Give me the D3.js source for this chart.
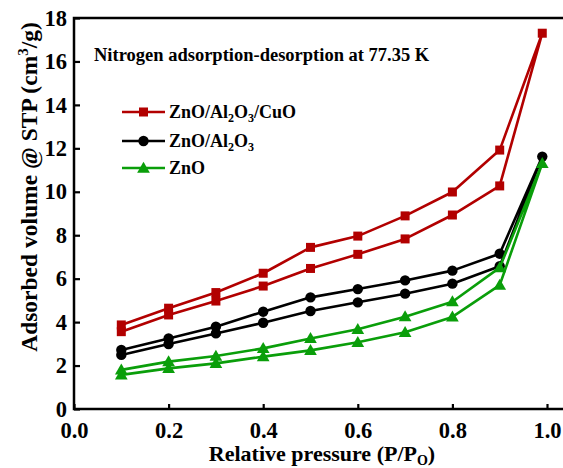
<!DOCTYPE html>
<html>
<head>
<meta charset="utf-8">
<script src="https://cdn.jsdelivr.net/npm/d3@7"></script>
<style>
  html, body { margin: 0; padding: 0; background: #fff; }
  svg { display: block; }
  text { font-family: "Liberation Serif", "Times New Roman", serif; font-weight: bold; fill: #000; }
</style>
</head>
<body>
<svg id="chart" width="563" height="468"></svg>
<script>
// Relative pressure points (adsorption branch ends at 0.99, desorption returns from it)
const pressure = [0.1, 0.2, 0.3, 0.4, 0.5, 0.6, 0.7, 0.8, 0.9, 0.99];

// Adsorbed volume (cm3/g), adsorption branch: 0.1 → 0.99
const cuoAds = [3.56, 4.33, 4.97, 5.66, 6.47, 7.12, 7.83, 8.93, 10.27, 17.3];
const alAds  = [2.49, 2.99, 3.48, 3.97, 4.51, 4.91, 5.31, 5.77, 6.57, 11.62];
const znoAds = [1.57, 1.87, 2.10, 2.41, 2.70, 3.07, 3.53, 4.24, 5.70, 11.31];

// Desorption branch: 0.1 → 0.9 (joins the adsorption branch at 0.99)
const cuoDes = [3.87, 4.64, 5.36, 6.25, 7.44, 7.96, 8.89, 9.99, 11.92];
const alDes  = [2.72, 3.25, 3.79, 4.48, 5.14, 5.52, 5.92, 6.37, 7.15];
const znoDes = [1.80, 2.18, 2.44, 2.79, 3.25, 3.67, 4.25, 4.94, 6.51];

const seriesNames = ["ZnO/Al2O3/CuO", "ZnO/Al2O3", "ZnO"];
const xTicks = [0.0, 0.2, 0.4, 0.6, 0.8, 1.0];
const yTicks = [0, 2, 4, 6, 8, 10, 12, 14, 16, 18];

const series = [
  { name: seriesNames[0], ads: cuoAds, des: cuoDes, color: "#b20000", shape: "square" },
  { name: seriesNames[1], ads: alAds,  des: alDes,  color: "#000000", shape: "circle" },
  { name: seriesNames[2], ads: znoAds, des: znoDes, color: "#0a9e0a", shape: "triangle" }
];

const svg = d3.select("#chart");
const plotLeft = 74, plotTop = 18, plotBottom = 409;

const x = d3.scaleLinear().domain([0, 1.06]).range([plotLeft, plotLeft + 1.06 * 473]);
const y = d3.scaleLinear().domain([0, 18]).range([plotBottom, plotTop]);

// Frame (right side runs past the canvas)
svg.append("path")
  .attr("d", `M${x(1.06)},${plotTop}H${plotLeft}V${plotBottom}H${x(1.06)}`)
  .attr("fill", "none").attr("stroke", "#000").attr("stroke-width", 2.5);

// Axes with inward ticks
const xAxis = svg.append("g").attr("transform", `translate(0,${plotBottom})`)
  .call(d3.axisBottom(x).tickValues(xTicks).tickFormat(d3.format(".1f")).tickSizeInner(-5).tickSizeOuter(0).tickPadding(10));
xAxis.select(".domain").remove();
xAxis.selectAll(".tick line").attr("stroke-width", 2.2);
xAxis.selectAll(".tick text").attr("font-size", 22.5).attr("dy", "0.71em").attr("y", 13);

const yAxis = svg.append("g").attr("transform", `translate(${plotLeft},0)`)
  .call(d3.axisLeft(y).tickValues(yTicks).tickFormat(d3.format("d")).tickSizeInner(-6).tickSizeOuter(0).tickPadding(8));
yAxis.select(".domain").remove();
yAxis.selectAll(".tick line").attr("stroke-width", 2.2);
yAxis.selectAll(".tick text").attr("font-size", 22.5).attr("x", -7);

// Axis titles
const xt = svg.append("text").attr("x", 322).attr("y", 461).attr("text-anchor", "middle").attr("font-size", 22);
xt.append("tspan").text("Relative pressure (P/P");
xt.append("tspan").attr("font-size", 14).attr("dy", 4).text("O");
xt.append("tspan").attr("dy", -4).text(")");

const yt = svg.append("text").attr("transform", "translate(37,187) rotate(-90)").attr("text-anchor", "middle").attr("font-size", 23.5);
yt.append("tspan").text("Adsorbed volume @ STP (cm");
yt.append("tspan").attr("font-size", 15).attr("dy", -9).text("3");
yt.append("tspan").attr("dy", 9).text("/g)");

// Annotation
svg.append("text").attr("x", 94).attr("y", 61).attr("font-size", 18.5)
  .text("Nitrogen adsorption-desorption at 77.35 K");

// Marker drawing
function marker(g, shape, color, cx, cy) {
  if (shape === "square") {
    g.append("rect").attr("x", cx - 4.5).attr("y", cy - 4.5).attr("width", 9).attr("height", 9).attr("fill", color);
  } else if (shape === "circle") {
    g.append("circle").attr("cx", cx).attr("cy", cy).attr("r", 5.2).attr("fill", color);
  } else {
    g.append("path").attr("d", d3.symbol(d3.symbolTriangle, 70)()).attr("transform", `translate(${cx},${cy + 1})`).attr("fill", color);
  }
}

const line = d3.line().x(d => x(d[0])).y(d => y(d[1]));

series.forEach(s => {
  const g = svg.append("g");
  const ads = pressure.map((p, i) => [p, s.ads[i]]);
  const des = s.des.map((v, i) => [pressure[i], v]);
  const pts = ads.concat(des.slice().reverse());
  g.append("path").attr("d", line(pts)).attr("fill", "none").attr("stroke", s.color).attr("stroke-width", 2.6).attr("stroke-linejoin", "round");
  pts.forEach(p => marker(g, s.shape, s.color, x(p[0]), y(p[1])));
});

// Legend
const legendY = [112, 141, 168];
series.forEach((s, i) => {
  const g = svg.append("g");
  g.append("line").attr("x1", 122).attr("x2", 165).attr("y1", legendY[i]).attr("y2", legendY[i]).attr("stroke", s.color).attr("stroke-width", 2.6);
  marker(g, s.shape, s.color, 143.5, legendY[i]);
  const t = g.append("text").attr("x", 169).attr("y", legendY[i] + 6).attr("font-size", 18);
  if (i === 0) {
    t.append("tspan").text("ZnO/Al");
    t.append("tspan").attr("font-size", 12).attr("dy", 4).text("2");
    t.append("tspan").attr("dy", -4).text("O");
    t.append("tspan").attr("font-size", 12).attr("dy", 4).text("3");
    t.append("tspan").attr("dy", -4).text("/CuO");
  } else if (i === 1) {
    t.append("tspan").text("ZnO/Al");
    t.append("tspan").attr("font-size", 12).attr("dy", 4).text("2");
    t.append("tspan").attr("dy", -4).text("O");
    t.append("tspan").attr("font-size", 12).attr("dy", 4).text("3");
  } else {
    t.text(s.name);
  }
});
</script>
</body>
</html>
